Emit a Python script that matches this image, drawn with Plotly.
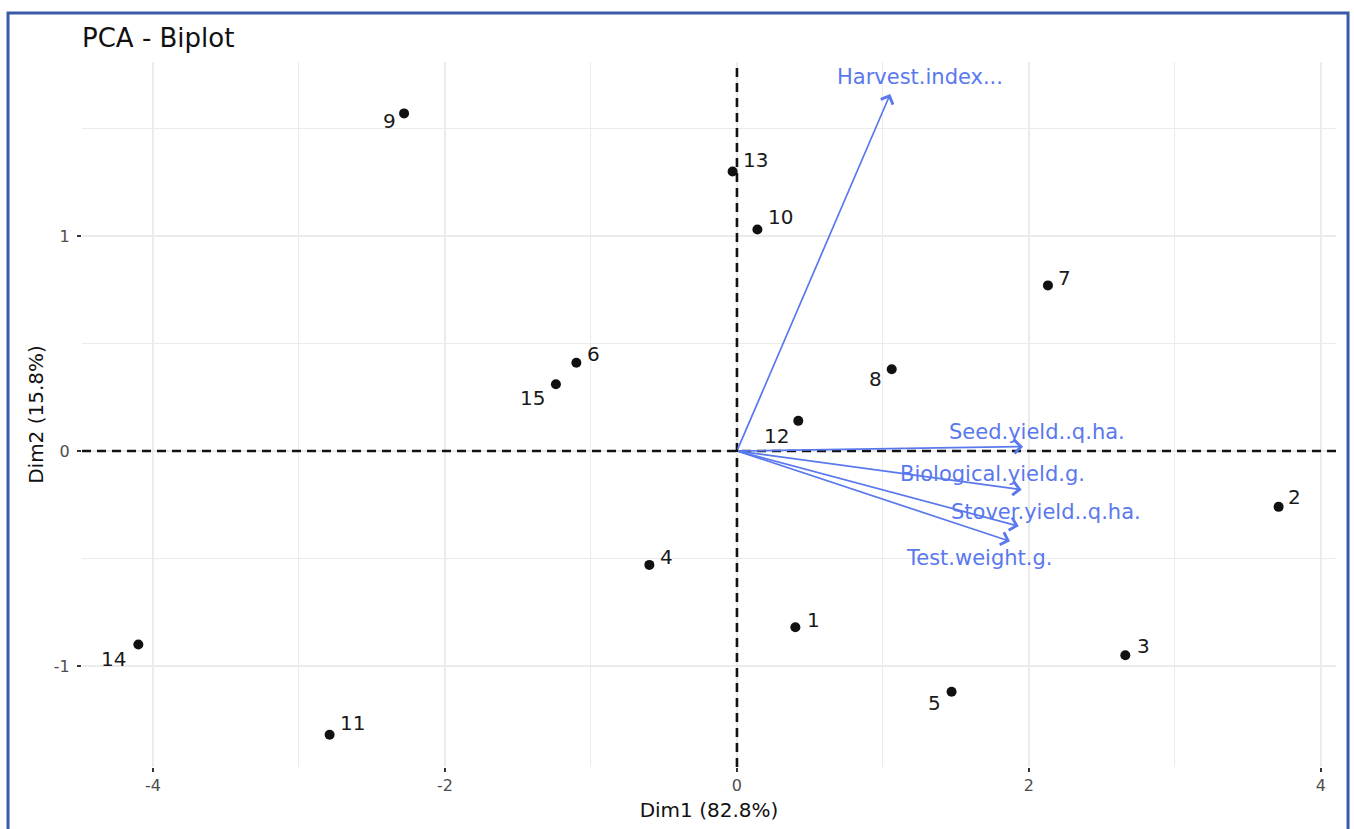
import plotly.graph_objects as go

# Individuals: coordinates on the first two principal dimensions
ind_labels = ["1", "2", "3", "4", "5", "6", "7", "8", "9", "10", "11", "12", "13", "14", "15"]
dim1 = [0.40, 3.71, 2.66, -0.60, 1.47, -1.10, 2.13, 1.06, -2.28, 0.14, -2.79, 0.42, -0.03, -4.10, -1.24]
dim2 = [-0.82, -0.26, -0.95, -0.53, -1.12, 0.41, 0.77, 0.38, 1.57, 1.03, -1.32, 0.14, 1.30, -0.90, 0.31]

# Variables: loadings drawn as arrows from the origin
var_labels = ["Harvest.index...", "Seed.yield..q.ha.", "Biological.yield.g.",
              "Stover.yield..q.ha.", "Test.weight.g."]
var_d1 = [1.05, 1.96, 1.95, 1.93, 1.87]
var_d2 = [1.66, 0.02, -0.18, -0.35, -0.42]

# Axis ticks (plain hyphen for negatives)
x_tickvals = [-4, -2, 0, 2, 4]
x_ticktext = ["-4", "-2", "0", "2", "4"]
y_tickvals = [-1, 0, 1]
y_ticktext = ["-1", "0", "1"]

# Repelled label offsets in pixels (dx, dy with dy pointing up)
ind_shift = [(18, 7), (16, 10), (18, 9), (17, 8), (-17, -11), (17, 9), (17, 7), (-16, -10),
             (-15, -8), (23, 12), (23, 12), (-22, -15), (23, 11), (-25, -15), (-23, -14)]
var_shift = [(30, 17), (14, 15), (-29, 16), (27, 14), (-30, -17)]

FONT = "DejaVu Sans, Verdana, sans-serif"
VAR_COLOR = "#5a78ee"
GRID = "#ebebeb"

fig = go.Figure()
fig.add_trace(go.Scatter(
    x=dim1, y=dim2, mode="markers",
    marker=dict(color="#111111", size=10),
    hoverinfo="text", text=ind_labels, showlegend=False,
))

annotations = []
for lab, x, y, (dx, dy) in zip(ind_labels, dim1, dim2, ind_shift):
    annotations.append(dict(x=x, y=y, text=lab, showarrow=False, xshift=dx, yshift=dy,
                            font=dict(family=FONT, size=20, color="#1a1a1a")))

for lab, x, y, (dx, dy) in zip(var_labels, var_d1, var_d2, var_shift):
    annotations.append(dict(x=x, y=y, ax=0, ay=0, axref="x", ayref="y", xref="x", yref="y",
                            text="", showarrow=True, arrowhead=4, arrowsize=1.5,
                            arrowwidth=1.7, arrowcolor=VAR_COLOR))
    annotations.append(dict(x=x, y=y, text=lab, showarrow=False, xshift=dx, yshift=dy,
                            font=dict(family=FONT, size=21, color=VAR_COLOR)))

shapes = [
    dict(type="line", xref="x", yref="paper", x0=0, x1=0, y0=0, y1=1,
         line=dict(color="#111111", width=2.6, dash="9px,6px"), layer="above"),
    dict(type="line", xref="paper", yref="y", x0=0, x1=1, y0=0, y1=0,
         line=dict(color="#111111", width=2.6, dash="9px,6px"), layer="above"),
    # window frame around the figure
    dict(type="rect", xref="paper", yref="paper", x0=-0.0590, x1=1.0096, y0=-0.15, y1=1.0695,
         line=dict(color="#3a5aa8", width=3), fillcolor="rgba(0,0,0,0)", layer="above"),
]

axis_common = dict(
    showline=False, zeroline=False, gridcolor=GRID, gridwidth=1.6,
    ticks="outside", ticklen=4, tickwidth=1.6, tickcolor="#333333",
    tickfont=dict(family=FONT, size=16, color="#4d4d4d"),
)

fig.update_layout(
    width=1354, height=829,
    margin=dict(l=82, r=18, t=62, b=62),
    paper_bgcolor="white", plot_bgcolor="white",
    title=dict(text="PCA - Biplot", x=82 / 1354, xanchor="left", y=1 - 38 / 829, yanchor="middle",
               font=dict(family=FONT, size=26, color="#111111")),
    xaxis=dict(range=[-4.486, 4.103], tickmode="array", tickvals=x_tickvals, ticktext=x_ticktext,
               minor=dict(dtick=1, tick0=0, showgrid=True, gridcolor=GRID, gridwidth=1.2, ticks=""),
               title=dict(text="Dim1 (82.8%)", standoff=8,
                          font=dict(family=FONT, size=20, color="#111111")),
               **axis_common),
    yaxis=dict(range=[-1.470, 1.809], tickmode="array", tickvals=y_tickvals, ticktext=y_ticktext,
               ticklabelstandoff=4,
               minor=dict(dtick=0.5, tick0=0, showgrid=True, gridcolor=GRID, gridwidth=1.2, ticks=""),
               title=dict(text="Dim2 (15.8%)", standoff=4,
                          font=dict(family=FONT, size=20, color="#111111")),
               **axis_common),
    annotations=annotations,
    shapes=shapes,
)

fig.write_html("out.html")
